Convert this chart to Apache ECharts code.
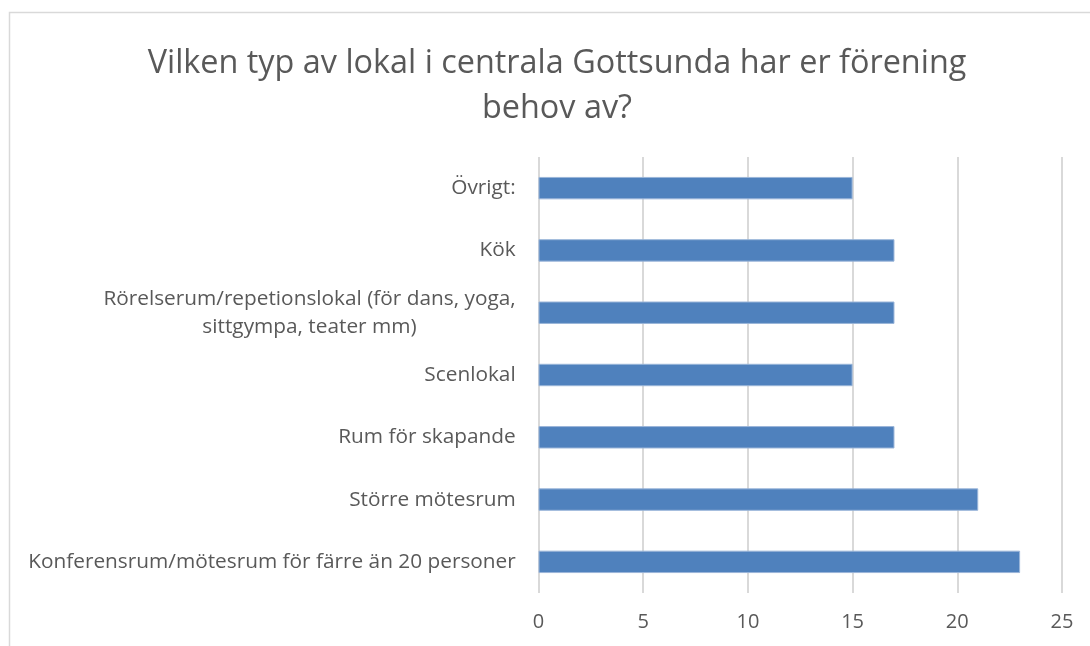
<!DOCTYPE html>
<html>
<head>
<meta charset="utf-8">
<script src="https://cdn.jsdelivr.net/npm/echarts@6/dist/echarts.min.js"></script>
<style>
html,body{margin:0;padding:0;background:#fff;}
#c{width:1090px;height:646px;}
</style>
</head>
<body>
<div id="c"></div>
<script>
// Categories listed bottom to top (Excel order)
var categories = [
  "Konferensrum/mötesrum för färre än 20 personer",
  "Större mötesrum",
  "Rum för skapande",
  "Scenlokal",
  "Rörelserum/repetionslokal (för dans, yoga,\nsittgympa, teater mm)",
  "Kök",
  "Övrigt:"
];
var values = [23, 21, 17, 15, 17, 17, 15];
var xTicks = [0, 5, 10, 15, 20, 25];
var titleText = "Vilken typ av lokal i centrala Gottsunda har er förening\nbehov av?";

var FONT = "Open Sans";
var LABEL_SIZE = 20.8;

// Build centred multi-line labels: each line gets a token box as wide as the widest line
var ctx = document.createElement('canvas').getContext('2d');
ctx.font = LABEL_SIZE + 'px "' + FONT + '"';
var rich = {};
var labelMap = {};
categories.forEach(function (cat, i) {
  var lines = cat.split('\n');
  var w = 0;
  lines.forEach(function (s) { w = Math.max(w, ctx.measureText(s).width); });
  var key = 'l' + i;
  rich[key] = {align: 'center', width: Math.ceil(w) + 1, fontFamily: FONT, fontSize: LABEL_SIZE, color: '#595959', lineHeight: 28};
  labelMap[cat] = lines.map(function (s) { return '{' + key + '|' + s + '}'; }).join('\n');
});

var chart = echarts.init(document.getElementById('c'), null, {renderer: 'canvas'});
chart.setOption({
  backgroundColor: '#ffffff',
  animation: false,
  graphic: [{
    type: 'rect',
    shape: {x: 9.5, y: 12.5, width: 1100, height: 700},
    style: {fill: 'none', stroke: '#d9d9d9', lineWidth: 1.5},
    silent: true
  }],
  title: {
    text: titleText,
    left: 552,
    textAlign: 'center',
    top: 36,
    textStyle: {
      fontFamily: FONT,
      fontWeight: 'normal',
      fontSize: 32.4,
      lineHeight: 45,
      color: '#595959'
    }
  },
  grid: {left: 538.5, right: 28, top: 157, bottom: 53, containLabel: false},
  xAxis: {
    type: 'value',
    min: xTicks[0],
    max: xTicks[xTicks.length - 1],
    interval: 5,
    axisLine: {show: false},
    axisTick: {show: false},
    splitLine: {show: true, lineStyle: {color: '#d9d9d9', width: 2}},
    axisLabel: {
      fontFamily: FONT,
      fontSize: 20,
      color: '#595959',
      margin: 19
    }
  },
  yAxis: {
    type: 'category',
    data: categories,
    axisLine: {show: false},
    axisTick: {show: false},
    axisLabel: {
      fontFamily: FONT,
      fontSize: LABEL_SIZE,
      color: '#595959',
      margin: 22,
      formatter: function (v) { return labelMap[v]; },
      rich: rich
    }
  },
  series: [{
    type: 'bar',
    data: values,
    barWidth: '36%',
    itemStyle: {color: '#4f81bd', borderColor: '#9ab5d9', borderWidth: 1}
  }]
});
</script>
</body>
</html>
